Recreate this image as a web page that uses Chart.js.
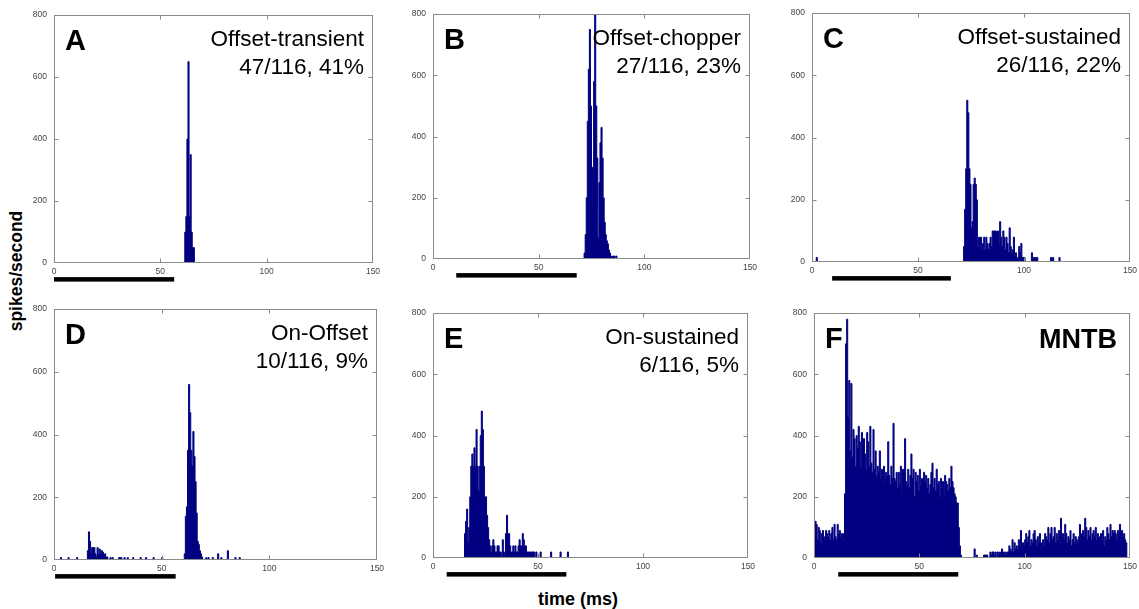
<!DOCTYPE html>
<html>
<head>
<meta charset="utf-8">
<title>Response types - PSTHs</title>
<script src="https://cdn.jsdelivr.net/npm/chart.js@4.4.1/dist/chart.umd.min.js"></script>
<style>
  body { margin: 0; background: #fff; font-family: "Liberation Sans", Arial, sans-serif; }
  #page { position: relative; width: 1139px; height: 609px; overflow: hidden; }
  #page canvas { position: absolute; }
  .axis-title { position: absolute; font-weight: bold; color: #000; white-space: nowrap; }
  #ylabel { left: 16px; top: 271px; font-size: 17.5px; transform: translate(-50%, -50%) rotate(-90deg); }
  #xlabel { left: 578px; top: 599px; font-size: 18px; transform: translate(-50%, -50%); }
</style>
</head>
<body>
<div id="page">
  <div class="axis-title" id="ylabel">spikes/second</div>
  <div class="axis-title" id="xlabel">time (ms)</div>
</div>
<script>
// histogram bins are 0.5 ms, rates in spikes/second
const binWidth = 0.5;
const timeMax = 150;
const xTicks = [0, 50, 100, 150];
const yTicks = [0, 200, 400, 600, 800];

const letters = ['A', 'B', 'C', 'D', 'E', 'F'];
const cellTypes = ['Offset-transient', 'Offset-chopper', 'Offset-sustained', 'On-Offset', 'On-sustained', 'MNTB'];
const counts = ['47/116, 41%', '27/116, 23%', '26/116, 22%', '10/116, 9%', '6/116, 5%', ''];

// stimulus (tone) bar under each panel, ms
const stimOn = [0, 11, 9.5, 0.5, 6.5, 11.5];
const stimOff = [56.5, 68, 65.5, 56.5, 63.5, 68.5];

// runs: [first bin start (ms), rates...]; strays: [bin start, rate]
const runsA = [[61.5, [100, 150, 400, 650, 150, 350, 100, 50, 50]]];
const straysA = [];

const runsB = [[71.5, [20, 80, 200, 450, 620, 750, 500, 160, 300, 580, 800, 500, 330, 70, 250, 380,
  430, 330, 200, 120, 80, 60, 50, 30, 20, 10, 0, 10, 10, 0, 10]]];
const straysB = [];

const runsC = [[71.5, [50, 170, 300, 520, 480, 300, 250, 110, 130, 250, 270, 250, 200, 50, 80, 50,
  80, 40, 60, 80, 40, 80, 60, 40, 60, 80, 50, 100, 100, 100, 100, 80, 100, 60, 130, 80, 50, 100,
  80, 40, 80, 60, 30, 110, 50, 30, 40, 80, 20, 30, 15, 10, 50, 30, 60, 15, 15, 15]]];
const straysC = [[2, 15], [103.5, 30], [104.5, 15], [105, 15], [105.5, 15], [106, 15],
  [112.5, 15], [113.5, 15], [116.5, 15]];

const runsD = [
  [15.5, [30, 90, 60, 20, 40, 40, 40, 20, 10, 40, 20, 35, 20, 30, 25, 10, 20, 10, 10]],
  [60.5, [20, 140, 170, 350, 560, 470, 350, 300, 410, 330, 250, 150, 60, 50, 30, 20, 10]]
];
const straysD = [[3, 8], [6.5, 8], [10.5, 8], [26, 8], [27, 8], [30, 8], [30.5, 8], [31, 8],
  [32.5, 8], [34, 8], [36.5, 8], [40, 8], [42.5, 8], [46, 8], [50, 8], [70.5, 8], [71.5, 8],
  [73.5, 8], [76, 20], [77.5, 8], [80.5, 30], [84, 8], [86, 8]];

const runsE = [[15, [80, 120, 160, 50, 100, 200, 300, 340, 300, 360, 300, 420, 300, 220, 300, 400,
  480, 420, 300, 200, 200, 140, 100, 60, 40, 20, 40, 60, 40, 20, 20, 40, 40, 20, 20, 0, 60, 20,
  0, 80, 140, 80, 80, 40, 20, 20, 40, 20, 40, 20, 20, 40, 60, 40, 40, 80, 60, 40, 40, 20, 20, 20,
  20, 20, 20, 20, 20, 0, 20]]];
const straysE = [[51, 20], [56, 20], [60.5, 20], [64, 20]];

const runsF = [[0, [
  70, 120, 110, 60, 100, 90, 50, 80, 90, 70,
  60, 90, 80, 70, 90, 60, 80, 100, 60, 110,
  70, 60, 110, 80, 90, 70, 80, 60, 80, 210,
  700, 780, 460, 580, 350, 570, 330, 420, 390, 300,
  400, 360, 430, 380, 300, 410, 370, 390, 340, 290,
  410, 380, 300, 430, 310, 280, 420, 290, 350, 270,
  300, 280, 350, 260, 290, 270, 300, 250, 280, 270,
  380, 270, 240, 300, 260, 440, 260, 250, 280, 230,
  280, 240, 300, 210, 290, 280, 390, 250, 240, 290,
  230, 270, 340, 260, 290, 200, 280, 250, 270, 220,
  290, 240, 260, 190, 280, 250, 270, 230, 260, 210,
  240, 280, 310, 230, 260, 220, 290, 240, 250, 200,
  260, 230, 250, 200, 270, 250, 240, 220, 260, 230,
  300, 250, 230, 210, 200, 180, 180, 100, 40, 10,
  0, 0, 0, 0, 0, 0, 0, 0, 0, 0,
  0, 0, 30, 0, 10, 0, 0, 0, 0, 0,
  0, 10, 10, 10, 10, 0, 0, 20, 10, 20,
  20, 10, 20, 0, 20, 10, 20, 10, 30, 20,
  10, 20, 10, 20, 20, 40, 30, 20, 60, 20,
  50, 30, 40, 30, 60, 40, 90, 30, 50, 40,
  60, 80, 50, 70, 90, 40, 60, 50, 80, 90,
  60, 40, 70, 50, 80, 30, 50, 60, 40, 80,
  70, 60, 100, 50, 80, 100, 60, 70, 100, 50,
  80, 60, 90, 50, 130, 70, 80, 60, 110, 80,
  50, 70, 60, 90, 40, 60, 80, 50, 70, 60,
  50, 70, 110, 60, 80, 90, 70, 130, 100, 60,
  90, 70, 100, 60, 80, 90, 70, 100, 60, 80,
  70, 50, 80, 60, 90, 40, 70, 60, 100, 80,
  60, 110, 70, 90, 80, 90, 80, 60, 90, 80,
  110, 60, 90, 70, 80, 60, 50, 0, 0, 0]]];
const straysF = [];

const allRuns = [runsA, runsB, runsC, runsD, runsE, runsF];
const allStrays = [straysA, straysB, straysC, straysD, straysE, straysF];

// plot-area boxes on the page (left, top, width, height)
const boxes = [
  [54, 15, 319, 248], [433, 14, 317, 245], [812, 13, 318, 249],
  [54, 309, 323, 251], [433, 313, 315, 245], [814, 313, 316, 245]
];

const AXIS_W = 40, AXIS_H = 30, PAD_T = 10, PAD_R = 14;
const FONT = '"Liberation Sans", Arial, sans-serif';
const NAVY = '#000080';
const FRAME = '#8a8a8a';

function toPoints(runs, strays) {
  const n = Math.round(timeMax / binWidth);
  const rates = new Array(n).fill(0);
  runs.forEach(([start, vals]) => {
    const first = Math.round(start / binWidth);
    vals.forEach((v, i) => { rates[first + i] = v; });
  });
  strays.forEach(([t, v]) => { rates[Math.round(t / binWidth)] = v; });
  const pts = rates.map((v, i) => ({ x: i * binWidth, y: v }));
  pts.push({ x: timeMax, y: rates[n - 1] });
  return pts;
}

const panelDeco = {
  id: 'panelDeco',
  afterDatasetsDraw(chart, args, opts) {
    const { ctx, chartArea: a, scales } = chart;
    ctx.save();
    // box with inward ticks on all four sides
    ctx.strokeStyle = FRAME;
    ctx.lineWidth = 1;
    const L = Math.round(a.left) + 0.5, R = Math.round(a.right) - 0.5;
    const T = Math.round(a.top) + 0.5, B = Math.round(a.bottom) - 0.5;
    ctx.strokeRect(L, T, R - L, B - T);
    ctx.beginPath();
    xTicks.slice(1, -1).forEach(v => {
      const x = Math.round(scales.x.getPixelForValue(v)) + 0.5;
      ctx.moveTo(x, B); ctx.lineTo(x, B - 4);
      ctx.moveTo(x, T); ctx.lineTo(x, T + 4);
    });
    yTicks.slice(1, -1).forEach(v => {
      const y = Math.round(scales.y.getPixelForValue(v)) + 0.5;
      ctx.moveTo(L, y); ctx.lineTo(L + 4, y);
      ctx.moveTo(R, y); ctx.lineTo(R - 4, y);
    });
    ctx.stroke();
    ctx.restore();
  },
  afterDraw(chart, args, opts) {
    const { ctx, chartArea: a, scales } = chart;
    ctx.save();
    // stimulus bar
    const x0 = scales.x.getPixelForValue(opts.stimOn);
    const x1 = scales.x.getPixelForValue(opts.stimOff);
    ctx.fillStyle = '#000';
    ctx.fillRect(x0, a.bottom + 14, x1 - x0, 4.5);
    // panel letter and cell type
    ctx.fillStyle = '#000';
    ctx.textBaseline = 'alphabetic';
    ctx.textAlign = 'left';
    ctx.font = 'bold 29px ' + FONT;
    ctx.fillText(opts.letter, a.left + 11, a.top + 35);
    ctx.textAlign = 'right';
    if (opts.count) {
      ctx.font = '22.5px ' + FONT;
      ctx.fillText(opts.type, a.right - 9, a.top + 31);
      ctx.fillText(opts.count, a.right - 9, a.top + 59);
    } else {
      ctx.font = 'bold 27px ' + FONT;
      ctx.fillText(opts.type, a.right - 13, a.top + 35);
    }
    ctx.restore();
  }
};

const page = document.getElementById('page');

boxes.forEach(([left, top, w, h], i) => {
  const canvas = document.createElement('canvas');
  canvas.width = w + AXIS_W + PAD_R;
  canvas.height = h + PAD_T + AXIS_H;
  canvas.style.width = canvas.width + 'px';
  canvas.style.height = canvas.height + 'px';
  page.appendChild(canvas);

  const chart = new Chart(canvas, {
    type: 'line',
    data: {
      datasets: [{
        data: toPoints(allRuns[i], allStrays[i]),
        stepped: true,
        fill: 'origin',
        backgroundColor: NAVY,
        borderColor: NAVY,
        borderWidth: 1,
        pointRadius: 0
      }]
    },
    options: {
      responsive: false,
      maintainAspectRatio: false,
      animation: false,
      layout: { padding: { left: 0, right: PAD_R, top: PAD_T, bottom: 0 } },
      plugins: {
        legend: { display: false },
        tooltip: { enabled: false },
        panelDeco: {
          letter: letters[i], type: cellTypes[i], count: counts[i],
          stimOn: stimOn[i], stimOff: stimOff[i]
        }
      },
      scales: {
        x: {
          type: 'linear', min: 0, max: timeMax,
          grid: { display: false, drawTicks: false },
          border: { display: false },
          afterBuildTicks: s => { s.ticks = xTicks.map(v => ({ value: v })); },
          afterFit: s => { s.height = AXIS_H; },
          ticks: { padding: 3, color: '#444', font: { family: FONT, size: 8.5 }, maxRotation: 0 }
        },
        y: {
          min: 0, max: 800,
          grid: { display: false, drawTicks: false },
          border: { display: false },
          afterBuildTicks: s => { s.ticks = yTicks.map(v => ({ value: v })); },
          afterFit: s => { s.width = AXIS_W; },
          ticks: { padding: 7, color: '#444', font: { family: FONT, size: 8.5 } }
        }
      }
    },
    plugins: [panelDeco]
  });

  // make the plot area exactly the box size, then place it on the page
  let a = chart.chartArea;
  const dw = w - (a.right - a.left), dh = h - (a.bottom - a.top);
  if (dw || dh) chart.resize(canvas.width + dw, canvas.height + dh);
  a = chart.chartArea;
  canvas.style.left = (left - a.left) + 'px';
  canvas.style.top = (top - a.top) + 'px';
});
</script>
</body>
</html>
